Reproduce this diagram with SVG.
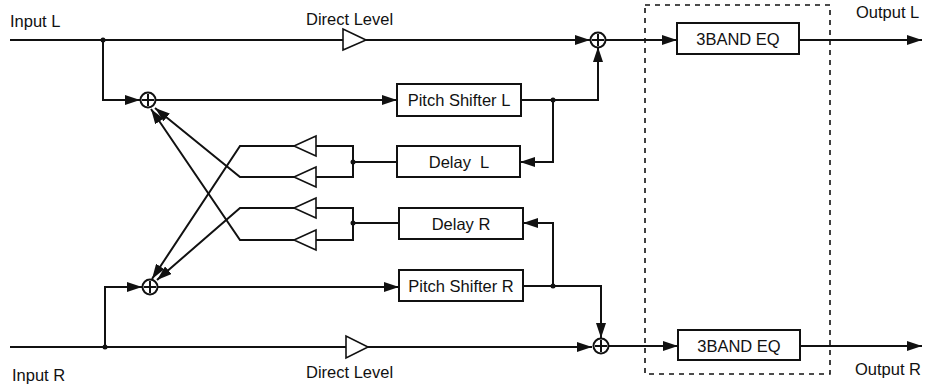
<svg xmlns="http://www.w3.org/2000/svg" width="927" height="384" viewBox="0 0 927 384">
<style>
.ln{fill:none;stroke:#111;stroke-width:2}
.box{fill:#fff;stroke:#111;stroke-width:2}
.amp{fill:#fff;stroke:#111;stroke-width:1.6}
.sum{fill:#fff;stroke:#111;stroke-width:2}
.t{font-family:"Liberation Sans",Arial,sans-serif;font-size:16.5px;fill:#111}
.c{text-anchor:middle}
.dot{fill:#111}
</style>
<defs>
<marker id="ah" markerUnits="userSpaceOnUse" markerWidth="16" markerHeight="10" refX="15" refY="5" orient="auto">
<path d="M0,0 L15,5 L0,10 Z" fill="#111"/>
</marker>
</defs>
<rect x="0" y="0" width="927" height="384" fill="#fff"/>

<g id="connectors">
<!-- top main line -->
<path class="ln" d="M10,40 L590,40" marker-end="url(#ah)"/>
<path class="ln" d="M103,40 L103,100 L140,100" marker-end="url(#ah)"/>
<path class="ln" d="M156,100 L397,100" marker-end="url(#ah)"/>
<path class="ln" d="M521,100 L598,100 L598,47" marker-end="url(#ah)"/>
<path class="ln" d="M553,100 L553,162 L520,162" marker-end="url(#ah)"/>
<path class="ln" d="M397,162 L353,162"/>
<path class="ln" d="M316,146 L353,146 L353,177 L316,177"/>
<path class="ln" d="M606,40 L677,40" marker-end="url(#ah)"/>
<path class="ln" d="M799,40 L922,40" marker-end="url(#ah)"/>
<!-- cross feedback -->
<path class="ln" d="M294,177 L240,177 L155,108" marker-end="url(#ah)"/>
<path class="ln" d="M294,240 L240,240 L151,109" marker-end="url(#ah)"/>
<path class="ln" d="M294,146 L240,146 L152,279" marker-end="url(#ah)"/>
<path class="ln" d="M294,208 L240,208 L157,280" marker-end="url(#ah)"/>
<!-- bottom -->
<path class="ln" d="M10,347 L592,347" marker-end="url(#ah)"/>
<path class="ln" d="M105,347 L105,287 L142,287" marker-end="url(#ah)"/>
<path class="ln" d="M158,287 L399,287" marker-end="url(#ah)"/>
<path class="ln" d="M523,286 L601,286 L601,338" marker-end="url(#ah)"/>
<path class="ln" d="M553,286 L553,223 L523,223" marker-end="url(#ah)"/>
<path class="ln" d="M399,223 L353,223"/>
<path class="ln" d="M316,208 L353,208 L353,240 L316,240"/>
<path class="ln" d="M609,346 L678,346" marker-end="url(#ah)"/>
<path class="ln" d="M800,346 L922,346" marker-end="url(#ah)"/>
<circle class="dot" cx="103" cy="40" r="2.5"/>
<circle class="dot" cx="553" cy="100" r="2.5"/>
<circle class="dot" cx="353" cy="162" r="2.5"/>
<circle class="dot" cx="105" cy="347" r="2.5"/>
<circle class="dot" cx="553" cy="286" r="2.5"/>
<circle class="dot" cx="353" cy="223" r="2.5"/>
</g>

<g id="eq-group">
<rect x="645" y="5" width="185" height="369" fill="none" stroke="#111" stroke-width="1.6" stroke-dasharray="5,5"/>
</g>

<g id="direct-level-L">
<path class="amp" d="M343,29 L343,50 L366,40 Z"/>
<text class="t" x="306" y="25">Direct Level</text>
</g>
<g id="direct-level-R">
<path class="amp" d="M346,336 L346,358 L368,347 Z"/>
<text class="t" x="306" y="378">Direct Level</text>
</g>

<g id="sum-L1"><circle class="sum" cx="148" cy="100" r="7.5"/><path class="ln" d="M148,94 V106 M142,100 H154"/></g>
<g id="sum-R1"><circle class="sum" cx="150" cy="287" r="7.5"/><path class="ln" d="M150,281 V293 M144,287 H156"/></g>
<g id="sum-L2"><circle class="sum" cx="598" cy="40" r="7.5"/><path class="ln" d="M598,34 V46 M592,40 H604"/></g>
<g id="sum-R2"><circle class="sum" cx="601" cy="346" r="7.5"/><path class="ln" d="M601,340 V352 M595,346 H607"/></g>

<g id="amp-L1"><path class="amp" d="M316,136 L316,156 L294,146 Z"/></g>
<g id="amp-L2"><path class="amp" d="M316,167 L316,187 L294,177 Z"/></g>
<g id="amp-R1"><path class="amp" d="M316,198 L316,218 L294,208 Z"/></g>
<g id="amp-R2"><path class="amp" d="M316,230 L316,250 L294,240 Z"/></g>

<g id="pitch-L">
<rect class="box" x="397" y="84" width="124" height="32"/>
<text class="t c" x="459" y="106">Pitch Shifter L</text>
</g>
<g id="delay-L">
<rect class="box" x="397" y="146" width="123" height="31"/>
<text class="t c" x="459" y="168">Delay&#160; L</text>
</g>
<g id="delay-R">
<rect class="box" x="399" y="208" width="124" height="31"/>
<text class="t c" x="461" y="230">Delay R</text>
</g>
<g id="pitch-R">
<rect class="box" x="399" y="270" width="124" height="31"/>
<text class="t c" x="461" y="292">Pitch Shifter R</text>
</g>
<g id="eq-L">
<rect class="box" x="677" y="23" width="122" height="31"/>
<text class="t c" x="738" y="45">3BAND EQ</text>
</g>
<g id="eq-R">
<rect class="box" x="678" y="330" width="122" height="30"/>
<text class="t c" x="739" y="352">3BAND EQ</text>
</g>

<g id="labels">
<text class="t" x="10" y="27">Input L</text>
<text class="t" x="12" y="381">Input R</text>
<text class="t" x="856" y="18">Output L</text>
<text class="t" x="855" y="375">Output R</text>
</g>
</svg>
